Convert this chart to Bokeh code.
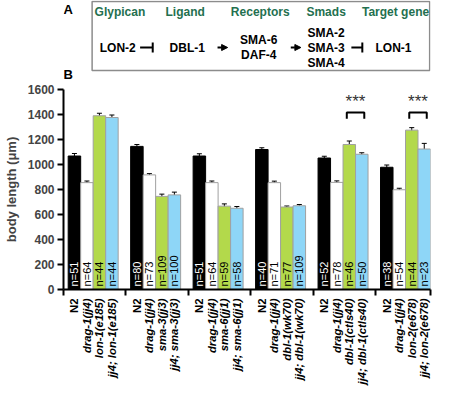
import math
from bokeh.plotting import figure
from bokeh.layouts import column
from bokeh.models import (Range1d, FixedTicker, ColumnDataSource, Whisker, TeeHead,
                          Arrow, NormalHead)
from bokeh.core.properties import value
from bokeh.embed import file_html
from bokeh.resources import INLINE

FONT = "Liberation Sans"

# ---------------- data ----------------
groups = ["lon-1(e185)", "sma-3(jj3)", "sma-6(jj1)", "dbl-1(wk70)", "dbl-1(ctIs40)", "lon-2(e678)"]
strain_labels = [
    ["N2", "drag-1(jj4)", "lon-1(e185)", "jj4; lon-1(e185)"],
    ["N2", "drag-1(jj4)", "sma-3(jj3)", "jj4; sma-3(jj3)"],
    ["N2", "drag-1(jj4)", "sma-6(jj1)", "jj4; sma-6(jj1)"],
    ["N2", "drag-1(jj4)", "dbl-1(wk70)", "jj4; dbl-1(wk70)"],
    ["N2", "drag-1(jj4)", "dbl-1(ctIs40)", "jj4; dbl-1(ctIs40)"],
    ["N2", "drag-1(jj4)", "lon-2(e678)", "jj4; lon-2(e678)"],
]
black = [1068, 1145, 1068, 1120, 1052, 978]
white = [855, 917, 855, 855, 857, 798]
green = [1390, 745, 667, 660, 1160, 1275]
blue = [1376, 757, 650, 670, 1082, 1124]
black_err = [20, 15, 18, 14, 14, 18]
white_err = [13, 10, 13, 12, 12, 12]
green_err = [20, 18, 18, 8, 28, 20]
blue_err = [20, 22, 14, 10, 12, 45]
n_black = [51, 80, 51, 40, 52, 38]
n_white = [64, 73, 64, 71, 78, 54]
n_green = [44, 109, 59, 77, 46, 44]
n_blue = [44, 100, 58, 109, 50, 23]
sig_groups = [4, 5]
sig_level = [1417, 1417]
y_ticks = [0, 200, 400, 600, 800, 1000, 1200, 1400, 1600]

series = [
    (black, black_err, n_black, "#000000", "#000000", "white"),
    (white, white_err, n_white, "#ffffff", "#a0a0a0", "black"),
    (green, green_err, n_green, "#b3d94b", "#a0a0a0", "black"),
    (blue, blue_err, n_blue, "#8ed6f7", "#a0a0a0", "black"),
]
offsets = [0.175, 0.375, 0.575, 0.775]
BW = 0.2

# ---------------- panel A ----------------
pa = figure(width=436, height=82, x_range=Range1d(0, 436), y_range=Range1d(82, 0),
            output_backend="svg", toolbar_location=None, min_border=0,
            x_axis_location=None, y_axis_location=None)
pa.grid.visible = False
pa.outline_line_color = None

pa.quad(left=[34], right=[435], top=[1], bottom=[70], fill_color=None,
        line_color="#8c8c8c", line_width=1.5)
pa.text(x=[0], y=[9], text=["A"], text_font=value(FONT), text_font_style="bold",
        text_font_size="13px", text_align="left", text_baseline="middle", text_color="black")
pa.text(x=[0], y=[74], text=["B"], text_font=value(FONT), text_font_style="bold",
        text_font_size="13px", text_align="left", text_baseline="middle", text_color="black")

headers = ["Glypican", "Ligand", "Receptors", "Smads", "Target gene"]
hx = [67, 144.5, 233.7, 312, 394.5]
pa.text(x=hx, y=[11] * 5, text=headers, text_font=value(FONT), text_font_style="bold",
        text_font_size="12px", text_align="center", text_baseline="middle", text_color="#24704f")

nodes = ["LON-2", "DBL-1", "SMA-6", "DAF-4", "SMA-2", "SMA-3", "SMA-4", "LON-1"]
nx = [64.5, 147, 232, 232, 312, 312, 312, 392]
ny = [47, 47, 39.5, 54.5, 32, 47, 62, 47]
pa.text(x=nx, y=ny, text=nodes, text_font=value(FONT), text_font_style="bold",
        text_font_size="12px", text_align="center", text_baseline="middle", text_color="black")

# inhibition symbols
for x1, x2 in [(91, 106), (342, 355)]:
    pa.segment(x0=[x1], y0=[47], x1=[x2], y1=[47], line_color="black", line_width=2)
    pa.segment(x0=[x2], y0=[42], x1=[x2], y1=[52], line_color="black", line_width=2)
# activation arrows
for x1, x2 in [(183, 195), (270, 282)]:
    pa.add_layout(Arrow(x_start=x1, y_start=47, x_end=x2, y_end=47, line_width=2,
                        end=NormalHead(size=6, fill_color="black", line_color="black")))

# ---------------- panel B ----------------
p = figure(width=436, height=216, x_range=Range1d(0, 5.875), y_range=Range1d(0, 1600),
           output_backend="svg", toolbar_location=None,
           min_border_left=60, min_border_right=6, min_border_top=7, min_border_bottom=9)
p.grid.visible = False
p.outline_line_color = None

lab_x, lab_t, lab_s = [], [], []
for si, (vals, errs, ns, fc, lc, tc) in enumerate(series):
    xs = [g + offsets[si] for g in range(len(groups))]
    src = ColumnDataSource(dict(x=xs, top=vals, up=[v + e for v, e in zip(vals, errs)],
                                lo=[v - e for v, e in zip(vals, errs)],
                                n=["n=%d" % k for k in ns]))
    p.vbar(x="x", top="top", width=BW, bottom=0, fill_color=fc, line_color=lc,
           line_width=1, source=src)
    p.add_layout(Whisker(base="x", upper="up", lower="lo", source=src, line_width=1,
                         line_color="black",
                         upper_head=TeeHead(size=5, line_width=1, line_color="black"),
                         lower_head=TeeHead(size=5, line_width=1, line_color="black")))
    p.text(x="x", y=25, text="n", source=src, angle=math.pi / 2, text_font=value(FONT),
           text_font_size="11px", text_align="left", text_baseline="middle", text_color=tc)
    for g, x in enumerate(xs):
        lab_x.append(x)
        lab_t.append(strain_labels[g][si])
        lab_s.append("bold" if si == 0 else "bold italic")

# significance brackets
for g, h in zip(sig_groups, sig_level):
    xa = g + offsets[2] - 0.04
    xb = g + offsets[3] + 0.04
    p.multi_line(xs=[[xa, xa, xb, xb]], ys=[[h - 50, h, h, h - 50]], line_color="black",
                 line_width=2)
    p.text(x=[(xa + xb) / 2], y=[h + 8], text=["***"], text_font=value(FONT),
           text_font_size="17px", text_align="center", text_baseline="bottom",
           text_color="#333333")

# y axis
p.yaxis.ticker = FixedTicker(ticks=y_ticks)
p.yaxis.axis_label = "body length (μm)"
p.yaxis.axis_label_text_font = FONT
p.yaxis.axis_label_text_font_style = "bold"
p.yaxis.axis_label_text_font_size = "13px"
p.yaxis.axis_label_standoff = 6
p.yaxis.major_label_text_font = FONT
p.yaxis.major_label_text_font_style = "bold"
p.yaxis.major_label_text_font_size = "12px"
p.yaxis.major_label_standoff = 3
p.yaxis.major_tick_out = 6
p.yaxis.major_tick_in = 0
p.yaxis.major_tick_line_width = 2
p.yaxis.minor_tick_line_color = None
p.yaxis.axis_line_width = 2

# x axis: only group-boundary ticks
boundaries = [0, 1, 2, 3, 4, 5, 5.875]
p.xaxis.ticker = FixedTicker(ticks=[], minor_ticks=boundaries)
p.xaxis.major_tick_line_color = None
p.xaxis.major_label_standoff = 0
p.xaxis.major_label_text_font_size = "0px"
p.xaxis.minor_tick_in = 0
p.xaxis.minor_tick_out = 6
p.xaxis.minor_tick_line_width = 2
p.xaxis.axis_line_width = 2

# ---------------- strain labels strip ----------------
pc = figure(width=436, height=93, x_range=p.x_range, y_range=Range1d(0, 93),
            output_backend="svg", toolbar_location=None,
            min_border_left=60, min_border_right=6, min_border_top=0, min_border_bottom=0,
            x_axis_location=None, y_axis_location=None)
pc.grid.visible = False
pc.outline_line_color = None
lsrc = ColumnDataSource(dict(x=lab_x, y=[93] * len(lab_x), t=lab_t, s=lab_s))
pc.text(x="x", y="y", text="t", source=lsrc, angle=math.pi / 2, text_font=value(FONT),
        text_font_style="s", text_font_size="11.3px", text_align="right",
        text_baseline="middle", text_color="black")

layout = column(pa, p, pc, spacing=0)
open("out.html", "w").write(file_html(layout, INLINE))
